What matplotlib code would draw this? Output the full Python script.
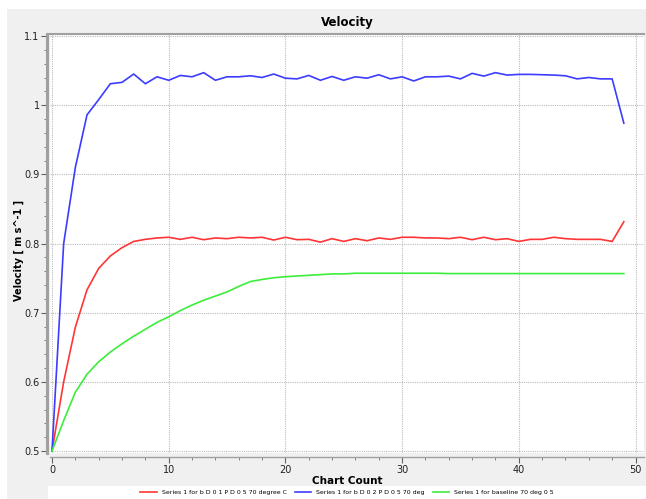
#!/usr/bin/python
# -*- coding: utf-8 -*-

"""
Velocity chart: three series of velocity against chart count.
Run with: python plot.py
"""

import matplotlib
matplotlib.use('Agg')
import matplotlib.pyplot as plt
import matplotlib.ticker as plticker
from matplotlib.patches import Rectangle

# Chart count values shared by all series
CHART_COUNT = list(range(50))

VEL_RED = [
    0.500, 0.600, 0.679, 0.733, 0.764, 0.782, 0.794, 0.803, 0.806, 0.808,
    0.809, 0.806, 0.809, 0.8055, 0.808, 0.807, 0.809, 0.808, 0.809, 0.805,
    0.809, 0.8055, 0.806, 0.802, 0.807, 0.803, 0.807, 0.804, 0.808, 0.806,
    0.809, 0.809, 0.808, 0.808, 0.807, 0.809, 0.8055, 0.809, 0.8055, 0.807,
    0.803, 0.806, 0.806, 0.809, 0.807, 0.806, 0.806, 0.806, 0.803, 0.8315,
]

VEL_BLUE = [
    0.500, 0.800, 0.910, 0.986, 1.008, 1.031, 1.033, 1.045, 1.031, 1.041,
    1.036, 1.043, 1.041, 1.047, 1.036, 1.041, 1.041, 1.0425, 1.040, 1.045,
    1.039, 1.038, 1.043, 1.036, 1.0415, 1.036, 1.041, 1.039, 1.044, 1.038,
    1.041, 1.035, 1.041, 1.041, 1.042, 1.038, 1.046, 1.042, 1.047, 1.0435,
    1.0445, 1.0445, 1.044, 1.0435, 1.0425, 1.038, 1.040, 1.038, 1.038, 0.974,
]

VEL_GREEN = [
    0.500, 0.544, 0.585, 0.611, 0.629, 0.643, 0.655, 0.666, 0.676, 0.686,
    0.694, 0.703, 0.711, 0.718, 0.724, 0.730, 0.738, 0.745, 0.748, 0.7505,
    0.752, 0.753, 0.754, 0.755, 0.756, 0.756, 0.757, 0.757, 0.757, 0.757,
    0.757, 0.757, 0.757, 0.757, 0.7565, 0.7565, 0.7565, 0.7565, 0.7565, 0.7565,
    0.7565, 0.7565, 0.7565, 0.7565, 0.7565, 0.7565, 0.7565, 0.7565, 0.7565, 0.7565,
]

SERIES_LABELS = [
    'Series 1 for b D 0 1 P D 0 5 70 degree C',
    'Series 1 for b D 0 2 P D 0 5 70 deg',
    'Series 1 for baseline 70 deg 0 5',
]

TITLE = 'Velocity'
X_LABEL = 'Chart Count'
Y_LABEL = 'Velocity [ m s^-1 ]'

# Figure geometry, in pixels
FIG_W, FIG_H = 646, 499
AX_LEFT, AX_RIGHT, AX_TOP, AX_BOTTOM = 50, 644, 34, 453

BG_GRAY = '#f0f0f0'
SPINE_GRAY = '#a0a0a0'
GRID_GRAY = '#bcbcbc'

# pylint: disable=bad-whitespace
LINE_CONFIG = [
    # data        color
    (VEL_RED,   '#ff3535'),
    (VEL_BLUE,  '#3c3cff'),
    (VEL_GREEN, '#3ced3c'),
]


def px_box(left, top, right, bottom):
    """Convert a pixel box (top-left origin) to figure fractions"""
    return [left / FIG_W, (FIG_H - bottom) / FIG_H,
            (right - left) / FIG_W, (bottom - top) / FIG_H]


def main():
    """Draw the velocity chart"""
    plt.rcParams['font.family'] = ['DejaVu Sans']

    fig = plt.figure(figsize=(FIG_W / 100, FIG_H / 100), dpi=100)
    fig.patch.set_facecolor('white')

    # Gray panel background and white legend strip (behind the axes)
    fig.patches.append(Rectangle((7 / FIG_W, 0), 1, (FIG_H - 9) / FIG_H,
                                 transform=fig.transFigure,
                                 facecolor=BG_GRAY, edgecolor='none', zorder=-2))
    fig.patches.append(Rectangle((48 / FIG_W, 0), 1, 13.5 / FIG_H,
                                 transform=fig.transFigure,
                                 facecolor='white', edgecolor='none', zorder=-1))

    axes = fig.add_axes(px_box(AX_LEFT, AX_TOP, AX_RIGHT, AX_BOTTOM))
    axes.set_facecolor('white')

    for (data, color), label in zip(LINE_CONFIG, SERIES_LABELS):
        axes.plot(CHART_COUNT, data, color=color, linewidth=1.2, label=label)

    # Scales: 0.5 at y=451 px, 1.1 at 36 px; 0 at x=52 px, 50 at 635.5 px
    y_scale = (451 - 36) / 0.6
    x_scale = (635.5 - 52) / 50
    axes.set_ylim(0.5 - (AX_BOTTOM - 451) / y_scale,
                  1.1 + (36 - AX_TOP) / y_scale)
    axes.set_xlim(-(52 - AX_LEFT) / x_scale,
                  50 + (AX_RIGHT - 635.5) / x_scale)

    axes.xaxis.set_major_locator(plticker.MultipleLocator(10))
    axes.xaxis.set_minor_locator(plticker.MultipleLocator(2))
    axes.yaxis.set_major_locator(plticker.MultipleLocator(0.1))
    axes.yaxis.set_minor_locator(plticker.MultipleLocator(0.02))
    axes.yaxis.set_major_formatter(
        plticker.FuncFormatter(lambda v, _pos: ('%.1f' % v).rstrip('0').rstrip('.')))

    axes.grid(which='major', linestyle=(0, (1, 1)), color=GRID_GRAY, linewidth=0.8)

    axes.spines['right'].set_visible(False)
    axes.spines['top'].set_color(SPINE_GRAY)
    axes.spines['top'].set_linewidth(1.5)
    axes.spines['left'].set_position(('outward', 2))
    axes.spines['left'].set_color(SPINE_GRAY)
    axes.spines['left'].set_linewidth(2.2)
    axes.spines['bottom'].set_position(('outward', 3))
    axes.spines['bottom'].set_color(SPINE_GRAY)
    axes.spines['bottom'].set_linewidth(1.0)

    axes.tick_params(which='major', length=4, width=0.8, color='#606060',
                     labelsize=7, pad=1.5, labelcolor='#202020')
    axes.tick_params(which='minor', length=2, width=0.6, color='#707070')

    axes.set_title(TITLE, fontsize=8.5, fontweight='bold', pad=5.5)
    axes.set_xlabel(X_LABEL, fontsize=7.5, fontweight='bold', labelpad=1)
    axes.set_ylabel(Y_LABEL, fontsize=7, fontweight='bold')
    axes.yaxis.set_label_coords(-0.044, 0.484)

    handles, labels = axes.get_legend_handles_labels()
    fig.legend(handles, labels, loc='center', ncol=3, frameon=False,
               bbox_to_anchor=(347 / FIG_W, 6.5 / FIG_H),
               prop={'family': 'Liberation Sans Narrow', 'size': 4.5},
               handlelength=2.6, handletextpad=0.8, columnspacing=1.3)

    fig.savefig('out.png', dpi=100, facecolor=fig.get_facecolor())


if __name__ == '__main__':
    main()
